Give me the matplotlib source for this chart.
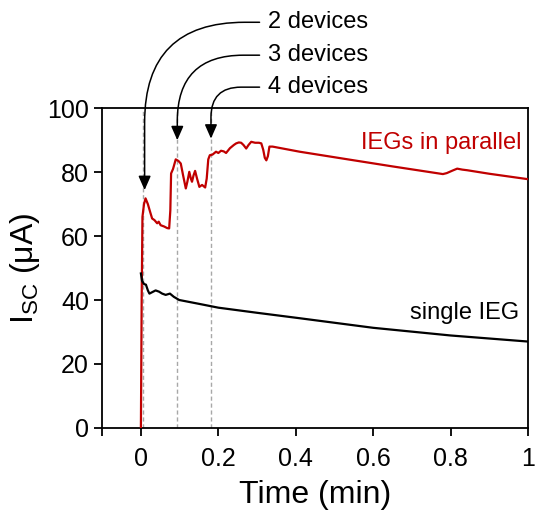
import numpy as np
import matplotlib.pyplot as plt

# dados
red_t = [0, 0.002, 0.004, 0.008, 0.012, 0.018, 0.024, 0.029, 0.035, 0.042, 0.046, 0.051,
         0.06, 0.068, 0.073, 0.076, 0.078, 0.083, 0.09, 0.097, 0.103, 0.109, 0.116, 0.12,
         0.125, 0.129, 0.132, 0.136, 0.14, 0.145, 0.151, 0.158, 0.166, 0.17, 0.174, 0.178,
         0.185, 0.194, 0.2, 0.207, 0.214, 0.22, 0.23, 0.24, 0.246, 0.253, 0.259, 0.265,
         0.272, 0.278, 0.285, 0.295, 0.305, 0.311, 0.316, 0.32, 0.324, 0.328, 0.332, 0.34,
         0.41, 0.54, 0.65, 0.78, 0.79, 0.805, 0.817, 0.83, 0.843, 0.9, 1.0]
red_y = [0, 40, 66, 70, 71.8, 70, 67.5, 65.5, 65, 64, 64.5, 63.4,
         63, 62.5, 62.4, 68, 79.6, 81, 84, 83.5, 82.7, 79, 74.9, 77,
         80.1, 78, 77, 79, 80.4, 78, 75.4, 76, 75.2, 78, 84, 85.3,
         85.5, 86.4, 86, 86.7, 86.5, 86, 87.5, 88.5, 89, 89.3, 89.2, 88.5,
         87.4, 88.5, 89.5, 89.2, 89.2, 89, 87, 84.5, 83.7, 85, 88, 88,
         86.4, 83.9, 81.8, 79.4, 79.7, 80.5, 81.1, 80.8, 80.6, 79.5, 77.8]

black_t = [0, 0.003, 0.008, 0.013, 0.018, 0.022, 0.03, 0.038, 0.047, 0.055, 0.064,
           0.075, 0.085, 0.099, 0.15, 0.2, 0.3, 0.41, 0.6, 0.8, 1.0]
black_y = [48.3, 46, 45, 44.8, 43, 42, 42.5, 43, 42.6, 42, 41.6,
           42, 41, 40, 38.8, 37.6, 36, 34.3, 31.3, 28.9, 27]

# momentos em que cada dispositivo foi conectado
conn_t = [0.005, 0.094, 0.181]
conn_labels = ['2 devices', '3 devices', '4 devices']
arrow_tip_y = [74.4, 90, 90.5]
arrow_tip_t = [0.0096, 0.094, 0.181]
label_y = [126.9, 116.6, 106.6]
arrow_rad = [100, 66, 30]

red = '#C00000'

plt.rcParams.update({'font.family': 'Liberation Sans', 'mathtext.default': 'regular'})
fig = plt.figure(figsize=(5.35, 5.13), dpi=100)
ax = fig.add_axes([0.191, 0.166, 0.796, 0.623])

for tc in conn_t:
    ax.axvline(tc, color='#A8A8A8', linestyle=(0, (3, 2)), linewidth=1, zorder=1)

ax.plot(red_t, red_y, color=red, linewidth=1.6, zorder=3)
ax.plot(black_t, black_y, color='black', linewidth=1.6, zorder=3)

ax.text(0.982, 89, 'IEGs in parallel', color=red, fontsize=17, ha='right', va='center')
ax.text(0.977, 35.9, 'single IEG', color='black', fontsize=17, ha='right', va='center')

for lab, tx, ty, ly, r in zip(conn_labels, arrow_tip_t, arrow_tip_y, label_y, arrow_rad):
    ax.annotate(lab, xy=(tx, ty), xytext=(0.328, ly), textcoords='data',
                fontsize=17, ha='left', va='center', annotation_clip=False,
                arrowprops=dict(arrowstyle='-|>,head_length=0.5,head_width=0.22',
                                color='black', linewidth=1.1, relpos=(0, 0.5),
                                shrinkA=4, shrinkB=0,
                                connectionstyle=f'angle,angleA=0,angleB=90,rad={r}'))

ax.set_xlim(-0.1, 1)
ax.set_ylim(0, 100)
ax.set_xticks([0, 0.2, 0.4, 0.6, 0.8, 1])
ax.set_xticklabels(['0', '0.2', '0.4', '0.6', '0.8', '1'])
ax.set_xticks([-0.1], minor=True)
ax.set_yticks([0, 20, 40, 60, 80, 100])
ax.tick_params(which='both', direction='out', length=6, width=1.3, labelsize=18)
ax.tick_params(axis='x', pad=8)
for s in ax.spines.values():
    s.set_linewidth(1.3)

ax.set_xlabel('Time (min)', fontsize=23, labelpad=6)
ax.set_ylabel('I$_{SC}$ (μA)', fontsize=23)

fig.savefig('out.png', dpi=100)
